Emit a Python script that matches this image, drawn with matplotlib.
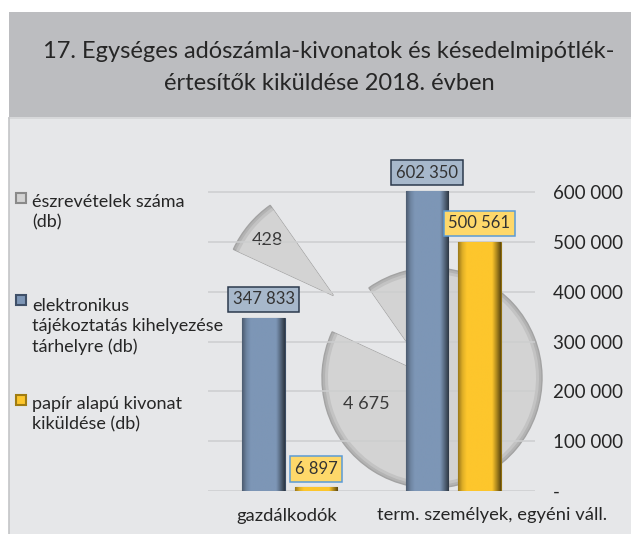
import matplotlib
matplotlib.use('Agg')
import matplotlib.pyplot as plt
import numpy as np
from matplotlib.colors import to_rgb
from matplotlib.patches import Rectangle

plt.rcParams['font.family'] = ['Lato', 'DejaVu Sans']

# --- data ---
categories = ['gazdálkodók', 'term. személyek, egyéni váll.']
electronic = [347833, 602350]
paper = [6897, 500561]
remarks = [428, 4675]
series_names = ['észrevételek száma\n(db)',
                'elektronikus\ntájékoztatás kihelyezése\ntárhelyre (db)',
                'papír alapú kivonat\nkiküldése (db)']
yticks = [0, 100000, 200000, 300000, 400000, 500000, 600000]

title = '17. Egységes adószámla-kivonatok és késedelmipótlék-\nértesítők kiküldése 2018. évben'

BLUE = '#7d96b6'
YELLOW = '#fdc62c'
GREY = '#d3d3d3'
TXT = '#262626'

W, H = 631, 534
fig = plt.figure(figsize=(W / 100, H / 100), dpi=100, facecolor='white')

# background axes in pixel units (y up), also holds the pie
bg = fig.add_axes([0, 0, 1, 1], zorder=0)
bg.add_patch(Rectangle((9, 0), W - 9, H - 117, facecolor='#e6e7e9', edgecolor='none'))
bg.add_patch(Rectangle((9, H - 117), W - 9, 105, facecolor='#bcbdc0', edgecolor='none'))
bg.plot([9, W], [H - 118, H - 118], color='#d4d5d7', lw=1.2)
bg.plot([9, 9], [0, H - 118], color='#c4c5c7', lw=1.2)
# multi-line text with va='baseline' sits on the last line's baseline
bg.text(329, H - 90, title, ha='center', va='baseline', fontsize=17,
        color=TXT, linespacing=1.62)

# pie behind the bars: layered rings give a soft bevelled rim
pc = (432, H - 378)
pr = 110
expl = 1.17 * pr
layers = [(pr, '#b3b3b3', '#a3a3a3'), (pr - 3, '#c3c3c3', 'none'), (pr - 6, GREY, 'none')]
for k, (rad, fc, ec) in enumerate(layers):
    wds, _ = bg.pie(remarks, explode=[expl, 0], startangle=125, radius=rad, center=pc,
                    colors=[fc, fc], frame=True,
                    wedgeprops=dict(edgecolor=ec, linewidth=1.0 if k == 0 else 0))
    for wd in wds:
        wd.set_zorder(1 + 0.1 * k)
# slice labels
th0 = np.deg2rad(125 + 360 * remarks[0] / sum(remarks) / 2)
lx = pc[0] + (expl + 0.78 * pr) * np.cos(th0)
ly = pc[1] + (expl + 0.78 * pr) * np.sin(th0)
bg.text(lx, ly, f'{remarks[0]:,}'.replace(',', ' '), ha='center', va='center',
        fontsize=13, color='#3a3a3a', zorder=3)
th1 = np.deg2rad(202)
bg.text(pc[0] + 0.64 * pr * np.cos(th1), pc[1] + 0.64 * pr * np.sin(th1),
        f'{remarks[1]:,}'.replace(',', ' '), ha='center', va='center',
        fontsize=13, color='#3a3a3a', zorder=3)
bg.set_xlim(0, W)
bg.set_ylim(0, H)
bg.set_aspect('auto')
bg.axis('off')

# legend drawn by hand on the left
leg_last = [H - 227, H - 352, H - 429]
leg_cols = [GREY, BLUE, YELLOW]
leg_edge = ['#8a8a8a', '#3f5068', '#a07c12']
step = 23
for name, yb, c, ec in zip(series_names, leg_last, leg_cols, leg_edge):
    first = yb + step * name.count('\n')
    bg.add_patch(Rectangle((15.5, first + 1), 10, 10, facecolor=c, edgecolor=ec, lw=1.5, zorder=3))
    bg.text(32, yb, name, ha='left', va='baseline', fontsize=13, color=TXT,
            linespacing=1.3, zorder=3)

# bar axes
ax = fig.add_axes([208 / W, (H - 490.7) / H, 327 / W, 7 * 49.73 / H], zorder=2)
ax.patch.set_alpha(0)
x = np.arange(len(categories))
bw = 0.26
b1 = ax.bar(x - 0.16, electronic, bw, color=BLUE, edgecolor='#3a4b62', lw=0.8, zorder=3)
b2 = ax.bar(x + 0.16, paper, bw, color=YELLOW, edgecolor='#8f6e0e', lw=0.8, zorder=3)

knots = [0, 0.1, 0.2, 0.8, 0.9, 1.0]
prof = [0.62, 0.88, 1.0, 1.0, 0.7, 0.38]
t = np.linspace(0, 1, 64)
fac = np.interp(t, knots, prof)
for bars, col in ((b1, BLUE), (b2, YELLOW)):
    rgb = np.array(to_rgb(col))
    arr = np.clip(rgb[None, None, :] * fac[None, :, None], 0, 1)
    for b in bars:
        im = ax.imshow(arr, extent=[b.get_x(), b.get_x() + b.get_width(), 0, b.get_height()],
                       aspect='auto', zorder=3.5, interpolation='bilinear')
        im.set_clip_path(b)

for bars, vals, fc, ec in ((b1, electronic, '#a7b8cb', '#2c3a4d'),
                            (b2, paper, '#fed86a', '#5b9bd5')):
    for b, v in zip(bars, vals):
        ax.annotate(f'{v:,}'.replace(',', ' '), (b.get_x() + b.get_width() / 2, v),
                    xytext=(0, 7.5), textcoords='offset points', ha='center', va='bottom',
                    fontsize=12, color='#333333', zorder=5,
                    bbox=dict(boxstyle='square,pad=0.28', fc=fc, ec=ec, lw=1.1))

ax.set_xlim(-0.5, 1.5)
ax.set_ylim(0, 700000)
ax.set_yticks(yticks)
ax.set_yticklabels(['-' if v == 0 else f'{v:,}'.replace(',', ' ') for v in yticks])
ax.yaxis.tick_right()
ax.tick_params(axis='y', length=0, pad=13, labelsize=13.5, labelcolor=TXT)
ax.tick_params(axis='x', length=0, labelbottom=False)
ax.yaxis.grid(True, color='#cdcecf', lw=1.1, zorder=0)
for s in ax.spines.values():
    s.set_visible(False)

# category labels under the groups
ax.text(-0.02, -0.088, categories[0], transform=ax.get_xaxis_transform(), ha='center',
        va='baseline', fontsize=13.2, color=TXT)
ax.text(1.235, -0.085, categories[1], transform=ax.get_xaxis_transform(), ha='center',
        va='baseline', fontsize=13.2, color=TXT)

fig.savefig('out.png', dpi=100, facecolor='white')
